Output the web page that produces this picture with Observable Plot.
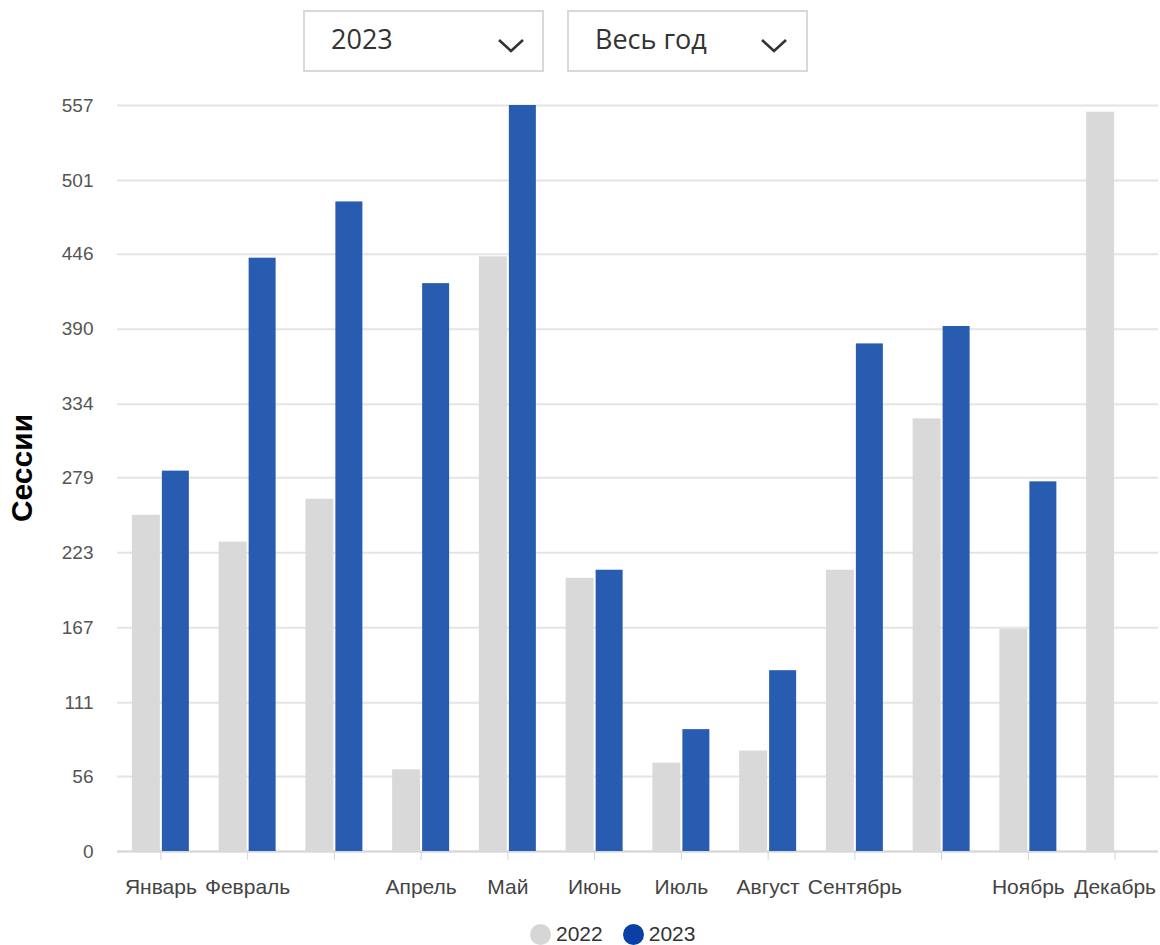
<!DOCTYPE html>
<html>
<head>
<meta charset="utf-8">
<script src="https://cdn.jsdelivr.net/npm/d3@7"></script>
<script src="https://cdn.jsdelivr.net/npm/@observablehq/plot@0.6"></script>
<style>
  body { margin: 0; background: #fff; font-family: "Liberation Sans", Arial, sans-serif; }
  #wrap { position: relative; width: 1160px; height: 945px; overflow: hidden; background: #fff; }
  .dd { position: absolute; top: 10px; width: 241px; height: 62px; box-sizing: border-box;
        border: 2px solid #d9d9d9; background: #fff; }
  .dd span { position: absolute; left: 26px; top: 8px; font-family: "Open Sans", sans-serif;
             font-size: 27px; color: #333; line-height: 38px; }
  .dd svg { position: absolute; top: 25px; }
  #chart { position: absolute; left: 0; top: 80px; }
  #ylabel { position: absolute; left: 22px; top: 468px; transform: translate(-50%, -50%) rotate(-90deg);
            font-weight: bold; font-size: 30px; color: #000; white-space: nowrap; }
  #legend { position: absolute; top: 922px; left: 530px; display: flex; align-items: center;
            font-size: 21px; color: #333; }
  #legend .sw { width: 21px; height: 21px; border-radius: 50%; display: inline-block; margin-right: 5px; }
  #legend .item { display: flex; align-items: center; margin-right: 20px; }
</style>
</head>
<body>
<div id="wrap">
  <div class="dd" style="left:303px"><span>2023</span>
    <svg width="28" height="16" style="left:192px"><polyline points="2,3 14,14 26,3" fill="none" stroke="#333" stroke-width="2.6"/></svg>
  </div>
  <div class="dd" style="left:567px"><span>Весь год</span>
    <svg width="28" height="16" style="left:191px"><polyline points="2,3 14,14 26,3" fill="none" stroke="#333" stroke-width="2.6"/></svg>
  </div>
  <div id="chart"></div>
  <div id="ylabel">Сессии</div>
  <div id="legend"></div>
</div>
<script>
const months = ["Январь","Февраль","Март","Апрель","Май","Июнь","Июль","Август","Сентябрь","Октябрь","Ноябрь","Декабрь"];
const xTickLabels = ["Январь","Февраль","","Апрель","Май","Июнь","Июль","Август","Сентябрь","","Ноябрь","Декабрь"];
const sessions2022 = [251, 231, 263, 61, 444, 204, 66, 75, 210, 323, 166, 552];
const sessions2023 = [284, 443, 485, 424, 557, 210, 91, 135, 379, 392, 276, 0];
const yTicks = [0, 56, 111, 167, 223, 279, 334, 390, 446, 501, 557];
const seriesNames = ["2022", "2023"];
const seriesColors = ["#d9d9d9", "#285cb1"];
const legendColors = ["#d6d6d6", "#0a3fa6"];

const d22 = months.map((m, i) => ({month: m, value: sessions2022[i]}));
const d23 = months.map((m, i) => ({month: m, value: sessions2023[i]}));

const chart = Plot.plot({
  width: 1160, height: 821,
  marginTop: 25, marginBottom: 50, marginLeft: 117, marginRight: 2,
  style: {fontFamily: '"Liberation Sans", Arial, sans-serif', background: "transparent"},
  x: {domain: months, paddingInner: 0.343, paddingOuter: 0.1715, round: false, axis: null},
  y: {domain: [0, 557], axis: null},
  marks: [
    Plot.gridY(yTicks, {stroke: "#e4e4e4", strokeOpacity: 1, strokeWidth: 2}),
    Plot.ruleY([0], {stroke: "#d8d8d8", strokeWidth: 2}),
    Plot.barY(d22, {x: "month", y: "value", fill: seriesColors[0], insetRight: 29}),
    Plot.barY(d23, {x: "month", y: "value", fill: seriesColors[1], insetLeft: 30}),
    Plot.axisY(yTicks, {tickSize: 0, tickPadding: 24, fontSize: 19, fill: "#555", label: null}),
    Plot.axisX({tickSize: 9, tickPadding: 19, fontSize: 21, fill: "#444", stroke: "#d5d5d5",
                tickFormat: d => xTickLabels[months.indexOf(d)], label: null})
  ]
});
document.getElementById("chart").appendChild(chart);

const legend = document.getElementById("legend");
seriesNames.forEach((name, i) => {
  const item = document.createElement("div");
  item.className = "item";
  item.innerHTML = `<span class="sw" style="background:${legendColors[i]}"></span><span>${name}</span>`;
  legend.appendChild(item);
});
</script>
</body>
</html>
